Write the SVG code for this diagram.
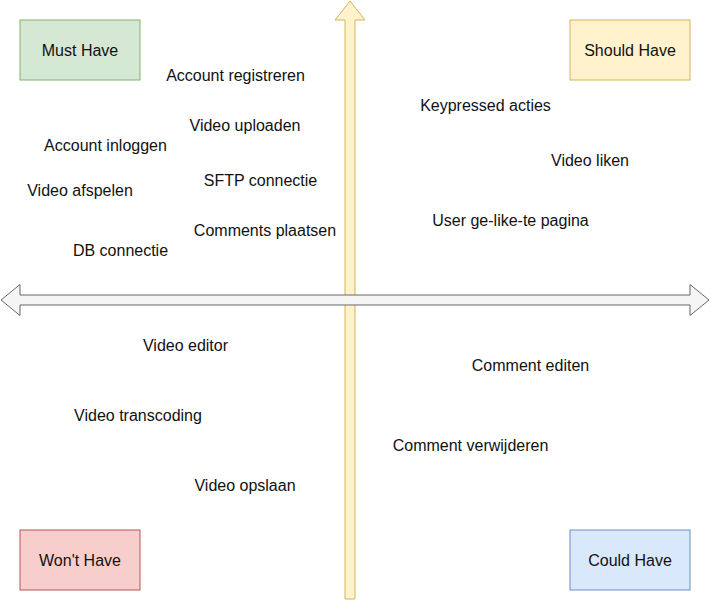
<svg xmlns="http://www.w3.org/2000/svg" width="710" height="600" viewBox="0 0 710 600">
<style>
text{font-family:"Liberation Sans",Arial,sans-serif;font-size:16px;fill:#111;text-anchor:middle}
.box{stroke-width:1}
</style>
<rect width="710" height="600" fill="#ffffff"/>
<g id="connectors">
<path id="vertical-axis" d="M345,599 L345,20 L335,20 L350,1 L365,20 L355,20 L355,599 Z" fill="#fff2cc" stroke="#d6b656" stroke-width="1"/>
<path id="horizontal-axis" d="M20,295 L690,295 L690,284.5 L709,300 L690,315.5 L690,305 L20,305 L20,315.5 L1,300 L20,284.5 Z" fill="#f5f5f5" stroke="#666666" stroke-width="1"/>
</g>
<g id="must-have"><rect class="box" x="20" y="20" width="120" height="60" fill="#d5e8d4" stroke="#82b366"/><text x="80" y="55.5">Must Have</text></g>
<g id="should-have"><rect class="box" x="570" y="20" width="120" height="60" fill="#fff2cc" stroke="#d6b656"/><text x="630" y="55.5">Should Have</text></g>
<g id="wont-have"><rect class="box" x="20" y="530" width="120" height="60" fill="#f8cecc" stroke="#b85450"/><text x="80" y="565.5">Won't Have</text></g>
<g id="could-have"><rect class="box" x="570" y="530" width="120" height="60" fill="#dae8fc" stroke="#6c8ebf"/><text x="630" y="565.5">Could Have</text></g>
<g id="account-registreren"><text x="235.5" y="80.5">Account registreren</text></g>
<g id="video-uploaden"><text x="245" y="130.5">Video uploaden</text></g>
<g id="account-inloggen"><text x="105.5" y="150.5">Account inloggen</text></g>
<g id="video-afspelen"><text x="80" y="195.5">Video afspelen</text></g>
<g id="sftp-connectie"><text x="260.5" y="185.5">SFTP connectie</text></g>
<g id="comments-plaatsen"><text x="265" y="235.5">Comments plaatsen</text></g>
<g id="db-connectie"><text x="120.5" y="255.5">DB connectie</text></g>
<g id="keypressed-acties"><text x="485.5" y="110.5">Keypressed acties</text></g>
<g id="video-liken"><text x="590" y="165.5">Video liken</text></g>
<g id="user-liked-page"><text x="510.5" y="225.5">User ge-like-te pagina</text></g>
<g id="video-editor"><text x="185.5" y="350.5">Video editor</text></g>
<g id="video-transcoding"><text x="138" y="420.5">Video transcoding</text></g>
<g id="comment-editen"><text x="530.5" y="370.5">Comment editen</text></g>
<g id="comment-verwijderen"><text x="470.5" y="450.5">Comment verwijderen</text></g>
<g id="video-opslaan"><text x="245" y="490.5">Video opslaan</text></g>
</svg>
